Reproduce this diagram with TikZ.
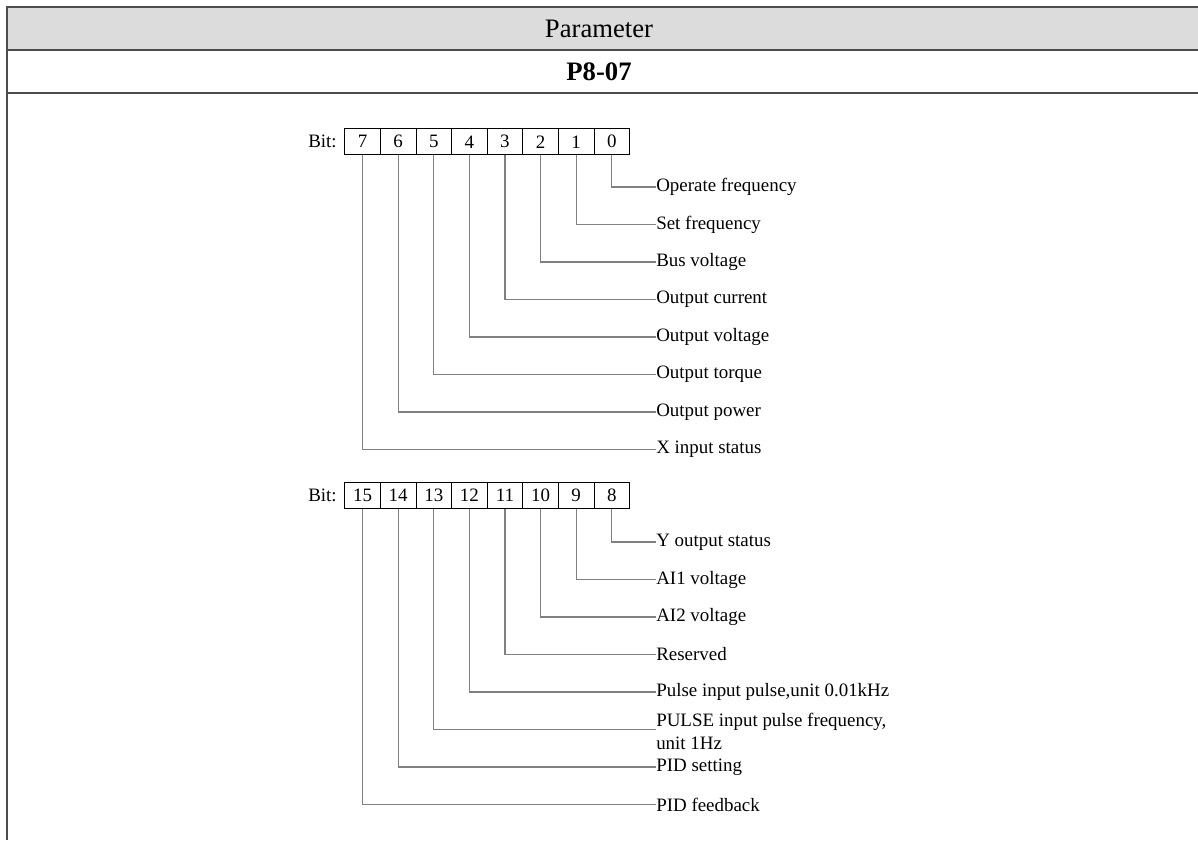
\documentclass[tikz,border=0pt]{standalone}
\usepackage{fontspec}
\setmainfont{Liberation Serif}
\begin{document}
\begin{tikzpicture}[x=0.75pt,y=-0.75pt,
  tline/.style={draw=black!70,line width=1.5pt},
  cell/.style={draw=black,line width=0.7pt,minimum width=35.6*0.75pt,minimum height=26*0.75pt,inner sep=0pt,anchor=north west,font=\fontsize{14.2}{17}\selectfont},
  conn/.style={draw=black!50,line width=0.8pt},
  lbl/.style={anchor=west,inner sep=0pt,align=left,font=\fontsize{14.2}{17.25}\selectfont},
  bitlbl/.style={anchor=east,inner sep=0pt,font=\fontsize{14.2}{17}\selectfont},
  hdrtxt/.style={font=\fontsize{20}{24}\selectfont}]
\useasboundingbox (0,0) rectangle (1198,840);
% table
\fill[fill={rgb,255:red,220;green,220;blue,220}] (7,7) rectangle (1198,50);
\draw[tline] (7,7) -- (1198,7);
\draw[tline] (7,50) -- (1198,50);
\draw[tline] (7,93) -- (1198,93);
\draw[tline] (7,6.25) -- (7,840);
\node[hdrtxt] (hdr) at (599,28.5) {Parameter};
\node[hdrtxt,font=\fontsize{20}{24}\selectfont\bfseries] (par) at (599,71.5) {P8-07};
% row 1
\node[bitlbl] (bitA) at (337,141.3) {Bit:};
\foreach \b [count=\i from 0] in {7,6,5,4,3,2,1,0}{
  \node[cell] (c\b) at ({344.3+35.6*\i},128.3) {\b};
}
% row 2
\node[bitlbl] (bitB) at (337,495) {Bit:};
\foreach \b [count=\i from 0] in {15,14,13,12,11,10,9,8}{
  \node[cell,minimum height=25.4*0.75pt] (c\b) at ({344.3+35.6*\i},482.3) {\b};
}
% labels row 1
\node[lbl] (l0) at (656,187) {Operate frequency};
\node[lbl] (l1) at (656,224.5) {Set frequency};
\node[lbl] (l2) at (656,262) {Bus voltage};
\node[lbl] (l3) at (656,299.5) {Output current};
\node[lbl] (l4) at (656,337) {Output voltage};
\node[lbl] (l5) at (656,374.5) {Output torque};
\node[lbl] (l6) at (656,412) {Output power};
\node[lbl] (l7) at (656,449.5) {X input status};
% labels row 2
\node[lbl] (l8) at (656,542) {Y output status};
\node[lbl] (l9) at (656,579.5) {AI1 voltage};
\node[lbl] (l10) at (656,617) {AI2 voltage};
\node[lbl] (l11) at (656,654.5) {Reserved};
\node[lbl] (l12) at (656,692) {Pulse input pulse,unit 0.01kHz};
\node[lbl] (l13) at (656,731.5) {PULSE input pulse frequency,\\unit 1Hz};
\node[lbl] (l14) at (656,767) {PID setting};
\node[lbl] (l15) at (656,804.5) {PID feedback};
\coordinate (j13) at (656,729.5);
% connectors
\foreach \b in {0,1,2,3,4,5,6,7,8,9,10,11,12,14,15}{
  \draw[conn] (c\b.south) |- (l\b.west);
}
\draw[conn] (c13.south) |- (j13);
\end{tikzpicture}
\end{document}
